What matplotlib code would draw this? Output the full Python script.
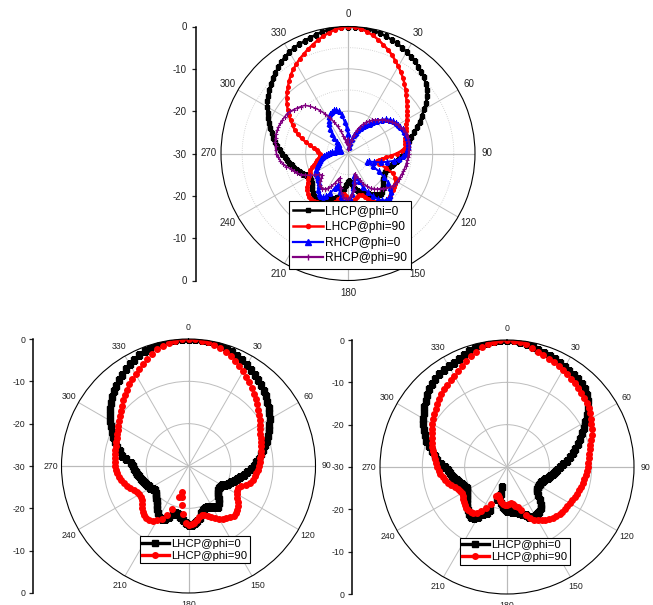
import numpy as np
import matplotlib.pyplot as plt
from matplotlib.lines import Line2D

plt.rcParams['font.family'] = ['Liberation Sans', 'DejaVu Sans']

W, H = 653, 605

# sample angles (deg), clockwise from boresight
theta_deg = np.arange(0, 360, 3)

# ---- top panel: LHCP / RHCP gain, dB ----
top_lhcp_phi0 = [
    0, 0, -0.1, -0.2, -0.4, -0.6, -0.9, -1.2, -1.5, -1.9,
    -2.3, -2.7, -3.1, -3.6, -4.1, -4.6, -5.3, -6.1, -7.0, -8.0,
    -9.2, -10.4, -11.5, -12.5, -13.5, -14.5, -15.3, -15.8, -16.1, -16.4,
    -16.7, -17.2, -17.8, -18.4, -18.9, -19.3, -19.7, -20.0, -20.2, -20.3,
    -20.2, -20.0, -19.8, -19.5, -19.0, -18.4, -17.9, -17.7, -17.9, -18.3,
    -18.8, -19.2, -19.5, -19.8, -20.2, -20.8, -21.5, -22.3, -23.0, -23.5,
    -23.3, -22.6, -21.5, -20.4, -19.6, -19.0, -18.6, -18.4, -18.3, -18.0,
    -17.5, -17.1, -17.0, -17.2, -17.6, -18.1, -18.6, -19.0, -19.2, -19.3,
    -19.2, -18.8, -18.3, -17.8, -17.3, -16.9, -16.5, -16.0, -15.5, -15.0,
    -14.4, -13.8, -13.1, -12.5, -11.9, -11.3, -10.7, -10.1, -9.4, -8.7,
    -8.0, -7.3, -6.7, -6.1, -5.5, -4.9, -4.4, -3.8, -3.2, -2.7,
    -2.3, -2.0, -1.7, -1.5, -1.2, -0.9, -0.6, -0.4, -0.2, -0.1]
top_lhcp_phi90 = [
    0, -0.1, -0.4, -0.9, -1.5, -2.2, -3.0, -3.7, -4.5, -5.4,
    -6.2, -7.1, -7.9, -8.8, -9.7, -10.6, -11.4, -12.1, -12.8, -13.4,
    -14.0, -14.5, -15.0, -15.4, -15.7, -16.0, -16.2, -16.3, -16.5, -17.3,
    -18.5, -19.8, -21.0, -21.9, -22.5, -22.9, -22.3, -20.3, -18.4, -17.5,
    -17.0, -16.8, -16.6, -16.4, -16.2, -15.9, -15.7, -15.6, -15.8, -16.2,
    -16.7, -17.4, -18.2, -19.0, -19.6, -19.8, -19.5, -19.0, -18.7, -18.8,
    -19.3, -20.0, -20.3, -19.8, -18.9, -18.2, -17.7, -17.3, -17.0, -16.8,
    -16.6, -16.4, -16.2, -16.1, -16.2, -16.6, -17.1, -17.6, -18.2, -18.8,
    -19.3, -19.8, -20.3, -20.9, -21.5, -22.1, -22.6, -23.0, -23.3, -23.4,
    -23.3, -23.0, -22.6, -21.8, -20.8, -19.7, -18.5, -17.3, -16.2, -15.3,
    -14.4, -13.4, -12.4, -11.4, -10.5, -9.6, -8.8, -7.9, -7.0, -6.3,
    -5.6, -4.9, -4.3, -3.6, -3.0, -2.3, -1.7, -1.1, -0.6, -0.2]
top_rhcp_phi0 = [
    -25.5, -27.0, -28.5, -28.5, -27.5, -26.5, -25.5, -24.7, -24.0, -23.3,
    -22.6, -22.0, -21.3, -20.5, -19.6, -18.7, -17.9, -17.3, -16.9, -16.6,
    -16.3, -16.1, -15.9, -15.8, -15.6, -15.5, -15.5, -15.6, -15.8, -16.0,
    -16.3, -16.9, -17.8, -19.0, -20.5, -22.0, -23.5, -24.8, -25.0, -23.5,
    -21.6, -19.8, -18.3, -17.2, -16.4, -15.9, -15.7, -15.8, -16.3, -17.2,
    -18.4, -19.8, -21.4, -23.0, -24.2, -24.5, -23.4, -21.8, -20.4, -19.4,
    -18.8, -18.6, -18.8, -19.5, -20.6, -21.7, -22.2, -21.3, -19.8, -18.6,
    -18.0, -17.9, -18.3, -18.9, -19.6, -20.2, -20.6, -20.8, -20.9, -21.0,
    -21.2, -21.5, -21.9, -22.3, -22.8, -23.2, -23.6, -24.0, -24.4, -24.8,
    -25.2, -25.7, -26.3, -27.0, -27.6, -28.0, -28.2, -28.0, -27.6, -27.2,
    -26.9, -26.8, -26.9, -27.1, -27.0, -26.3, -25.2, -24.0, -22.8, -21.8,
    -21.0, -20.3, -19.8, -19.5, -19.3, -19.3, -19.8, -20.8, -22.5, -24.0]
top_rhcp_phi90 = [
    -26.5, -28.0, -29.0, -28.8, -27.8, -26.6, -25.3, -24.1, -23.1, -22.3,
    -21.5, -20.9, -20.3, -19.8, -19.3, -18.8, -18.2, -17.7, -17.2, -16.8,
    -16.4, -16.1, -15.8, -15.6, -15.5, -15.4, -15.4, -15.4, -15.5, -15.6,
    -15.7, -15.8, -15.9, -16.0, -16.1, -16.2, -16.3, -16.4, -16.5, -16.6,
    -16.7, -16.8, -17.0, -17.3, -17.8, -18.3, -18.8, -19.2, -19.6, -20.2,
    -21.0, -22.0, -23.2, -24.4, -25.0, -24.0, -22.6, -21.3, -20.3, -19.6,
    -19.2, -19.2, -19.6, -20.4, -21.6, -23.0, -24.0, -23.4, -22.3, -21.3,
    -20.5, -20.0, -19.7, -19.7, -20.0, -20.7, -21.5, -22.0, -21.6, -20.7,
    -19.7, -18.7, -17.8, -17.1, -16.6, -16.0, -15.1, -14.4, -13.9, -13.5,
    -13.1, -12.9, -12.8, -12.6, -12.5, -12.4, -12.4, -12.4, -12.5, -12.6,
    -12.7, -12.8, -13.1, -13.5, -13.9, -14.3, -14.7, -15.6, -16.7, -17.9,
    -19.2, -20.5, -21.8, -23.1, -24.4, -25.6, -26.6, -27.3, -27.5, -27.0]

# ---- bottom-left panel ----
bl_lhcp_phi0 = [
    0, 0, -0.1, -0.2, -0.4, -0.6, -0.9, -1.2, -1.6, -2.0,
    -2.5, -3.0, -3.4, -3.9, -4.4, -4.9, -5.4, -6.0, -6.6, -7.2,
    -7.9, -8.6, -9.3, -10.0, -10.6, -11.2, -11.9, -12.6, -13.3, -14.0,
    -14.6, -15.3, -16.0, -16.8, -17.5, -18.1, -18.6, -19.2, -19.8, -20.3,
    -20.8, -21.0, -21.2, -21.0, -20.5, -20.0, -19.4, -18.7, -18.1, -18.4,
    -18.9, -19.2, -19.5, -19.4, -19.0, -18.4, -17.5, -16.9, -16.4, -16.1,
    -16.1, -16.5, -17.2, -17.9, -18.4, -18.4, -18.0, -17.2, -16.4, -16.0,
    -16.2, -16.9, -17.5, -18.2, -18.8, -19.3, -19.7, -20.0, -20.2, -19.9,
    -19.6, -19.4, -19.2, -18.9, -18.6, -18.3, -18.1, -17.8, -17.5, -17.2,
    -17.0, -16.3, -15.2, -14.2, -13.4, -12.6, -11.8, -11.0, -10.2, -9.4,
    -8.6, -7.9, -7.2, -6.5, -5.8, -5.1, -4.5, -3.9, -3.3, -2.8,
    -2.3, -1.8, -1.4, -1.0, -0.7, -0.5, -0.3, -0.2, -0.1, 0]
bl_lhcp_phi90 = [
    0, -0.05, -0.2, -0.4, -0.7, -1.2, -1.7, -2.2, -2.8, -3.5,
    -4.2, -4.9, -5.6, -6.3, -7.0, -7.6, -8.2, -8.8, -9.4, -10.0,
    -10.5, -11.0, -11.4, -11.7, -12.0, -12.2, -12.4, -12.7, -12.9, -13.1,
    -13.3, -13.6, -13.9, -14.2, -14.5, -14.9, -15.6, -16.6, -17.1, -17.2,
    -16.9, -16.3, -15.6, -15.0, -14.6, -14.2, -14.1, -14.4, -14.8, -15.1,
    -15.6, -16.2, -16.8, -17.4, -17.8, -18.0, -17.6, -17.0, -16.5, -16.2,
    -16.1, -16.5, -18.6, -20.6, -22.6, -23.7, -22.4, -19.2, -17.3, -16.0,
    -15.3, -14.6, -14.3, -14.2, -14.3, -14.7, -15.2, -15.8, -16.3, -16.6,
    -16.6, -16.3, -15.8, -15.3, -14.8, -14.2, -13.8, -13.4, -13.1, -12.9,
    -12.7, -12.6, -12.5, -12.4, -12.3, -12.2, -12.0, -11.8, -11.5, -11.2,
    -10.9, -10.5, -10.0, -9.4, -8.8, -8.1, -7.5, -6.8, -6.2, -5.6,
    -5.0, -4.4, -3.6, -2.8, -2.1, -1.5, -1.0, -0.5, -0.2, -0.05]

# ---- bottom-right panel ----
br_lhcp_phi0 = [
    0, -0.05, -0.2, -0.5, -0.9, -1.3, -1.6, -1.9, -2.2, -2.5,
    -2.8, -3.0, -3.2, -3.4, -3.6, -4.1, -4.7, -5.4, -6.4, -7.6,
    -8.6, -9.5, -10.5, -11.5, -12.4, -13.3, -14.1, -14.9, -15.8, -16.7,
    -17.4, -18.1, -18.7, -19.1, -19.5, -20.0, -20.5, -20.9, -21.1, -21.3,
    -21.4, -21.3, -21.1, -20.9, -20.0, -18.9, -18.0, -17.4, -17.0, -16.8,
    -16.7, -16.8, -17.2, -17.8, -18.3, -18.8, -19.1, -19.3, -19.4, -19.5,
    -19.7, -20.0, -20.4, -21.5, -23.5, -25.0, -22.0, -19.0, -18.2, -17.6,
    -16.4, -15.6, -15.5, -15.8, -16.2, -16.8, -17.4, -17.9, -18.3, -18.6,
    -19.2, -19.3, -19.0, -18.6, -18.2, -17.8, -17.3, -16.9, -16.5, -16.0,
    -15.3, -14.3, -13.4, -12.8, -12.0, -10.9, -10.0, -9.2, -8.5, -7.8,
    -7.2, -6.5, -5.9, -5.3, -4.7, -4.1, -3.6, -3.1, -2.8, -2.6,
    -2.4, -2.3, -2.0, -1.6, -1.2, -0.8, -0.5, -0.3, -0.1, 0]
br_lhcp_phi90 = [
    0, -0.1, -0.3, -0.7, -1.2, -1.8, -2.2, -2.6, -2.9, -3.2,
    -3.5, -3.8, -4.2, -4.6, -5.0, -5.2, -5.5, -5.8, -6.2, -6.6,
    -7.1, -7.6, -8.1, -8.6, -9.1, -9.6, -10.0, -10.3, -10.6, -10.8,
    -10.9, -11.1, -11.3, -11.5, -11.7, -11.9, -12.1, -12.3, -12.5, -12.7,
    -12.9, -13.0, -13.1, -13.2, -13.3, -13.5, -13.8, -14.2, -14.6, -15.0,
    -15.5, -16.0, -16.7, -17.8, -19.2, -20.2, -20.7, -21.2, -21.5, -21.3,
    -21.0, -21.0, -21.3, -21.6, -22.0, -22.6, -23.0, -22.6, -20.5, -19.0,
    -17.9, -17.0, -16.5, -16.3, -16.2, -16.3, -16.6, -16.9, -17.2, -17.5,
    -17.6, -17.6, -17.3, -16.8, -16.1, -15.5, -15.0, -14.6, -14.2, -13.8,
    -13.4, -13.1, -12.8, -12.5, -12.1, -11.7, -11.3, -10.9, -10.5, -10.0,
    -9.6, -9.2, -8.7, -8.3, -7.8, -7.3, -6.8, -6.4, -6.0, -5.6,
    -5.1, -4.6, -4.0, -3.3, -2.5, -1.8, -1.1, -0.6, -0.2, -0.05]

angle_ticks = np.arange(0, 360, 30)
radial_ticks = [30, 20, 10, 0, -10, -20, -30]
radial_labels = ['0', '-10', '-20', '-30', '-20', '-10', '0']

fig = plt.figure(figsize=(W / 100, H / 100), dpi=100)


def polar_panel(cx, cy, R, scale_x, fs, label_r=2.9, pad=3.5, dotted=False):
    ax = fig.add_axes([(cx - R) / W, 1 - (cy + R) / H, 2 * R / W, 2 * R / H],
                      projection='polar')
    ax.set_theta_zero_location('N')
    ax.set_theta_direction(-1)
    ax.set_ylim(-30, 0)
    ax.set_xticks(np.deg2rad(angle_ticks))
    ax.set_xticklabels([])
    ax.set_yticks([-20, -10])
    ax.set_yticklabels([])
    ax.grid(True, color='#bdbdbd', lw=0.7)
    ax.spines['polar'].set_color('black')
    ax.spines['polar'].set_linewidth(0.8)
    ring = np.linspace(0, 2 * np.pi, 361)
    if dotted:
        for r in (-25, -15, -5):
            ax.plot(ring, np.full_like(ring, r), ls=':', color='#c8c8c8',
                    lw=0.6, zorder=0.5)
    # main cross through the centre
    for a in (0, 90, 180, 270):
        ax.plot(np.deg2rad([a, a]), [-30, 0], color='#7a7a7a', lw=0.8,
                zorder=0.6)
    for a in angle_ticks:
        ax.text(np.deg2rad(a), label_r, str(a), ha='center', va='center',
                fontsize=fs, color='#222222', clip_on=False)

    # Origin-style radial scale on the left
    sa = fig.add_axes([scale_x / W, 1 - (cy + R) / H, 0.0001, 2 * R / H])
    sa.set_ylim(-30, 30)
    sa.set_yticks(radial_ticks)
    sa.set_yticklabels(radial_labels)
    sa.set_xticks([])
    for s in ('top', 'right', 'bottom'):
        sa.spines[s].set_visible(False)
    sa.spines['left'].set_linewidth(1.1)
    sa.tick_params(axis='y', direction='out', length=3, width=0.9,
                   labelsize=fs, pad=pad, colors='#222222')
    sa.patch.set_visible(False)
    return ax


def closed(v):
    v = np.asarray(v, dtype=float)
    return np.append(v, v[0])


th = np.deg2rad(theta_deg)
thc = np.append(th, th[0])

# ---- top ----
ax = polar_panel(348, 153.5, 127, 196, 7, dotted=True)
ax.plot(thc, closed(top_lhcp_phi0), color='black', lw=1.8, marker='s', ms=2.6)
ax.plot(thc, closed(top_lhcp_phi90), color='red', lw=1.8, marker='o', ms=2.6)
ax.plot(thc, closed(top_rhcp_phi0), color='blue', lw=1.4, marker='^', ms=3.2)
ax.plot(thc, closed(top_rhcp_phi90), color='#800080', lw=1.1, marker='+', ms=3,
        mew=0.8)
top_handles = [
    Line2D([], [], color='black', lw=1.8, marker='s', ms=3),
    Line2D([], [], color='red', lw=1.8, marker='o', ms=3),
    Line2D([], [], color='blue', lw=1.6, marker='^', ms=4),
    Line2D([], [], color='#800080', lw=1.6, marker='|', ms=5, mew=1),
]
leg = ax.legend(top_handles, ['LHCP@phi=0', 'LHCP@phi=90', 'RHCP@phi=0',
                              'RHCP@phi=90'],
                loc='upper left', bbox_to_anchor=(289 / W, 1 - 201.5 / H),
                bbox_transform=fig.transFigure, fontsize=8.6, frameon=True,
                fancybox=False, framealpha=1, edgecolor='black',
                handlelength=2.5, handletextpad=0.2, labelspacing=0.3,
                borderpad=0.35, borderaxespad=0)
leg.get_frame().set_linewidth(0.8)


def bottom_panel(cx, cy, scale_x, black_vals, red_vals, leg_xy):
    ax = polar_panel(cx, cy, 127, scale_x, 6.3, label_r=2.6, pad=2.5)
    ax.plot(th, black_vals, ls='none', marker='s', ms=4, color='black')
    ax.plot(th, red_vals, ls='none', marker='o', ms=4, color='red')
    handles = [
        Line2D([], [], color='black', lw=2.4, marker='s', ms=4),
        Line2D([], [], color='red', lw=2.4, marker='o', ms=4),
    ]
    lg = ax.legend(handles, ['LHCP@phi=0', 'LHCP@phi=90'], loc='upper left',
                   bbox_to_anchor=(leg_xy[0] / W, 1 - leg_xy[1] / H),
                   bbox_transform=fig.transFigure, fontsize=8.2,
                   frameon=True, fancybox=False, framealpha=1,
                   edgecolor='black', handlelength=2.3, handletextpad=0.2,
                   labelspacing=0.15, borderpad=0.25, borderaxespad=0)
    lg.get_frame().set_linewidth(0.8)


bottom_panel(188.5, 466, 33, bl_lhcp_phi0, bl_lhcp_phi90, (139.5, 536))
bottom_panel(507, 467, 352, br_lhcp_phi0, br_lhcp_phi90, (459.5, 537.5))

fig.savefig('out.png', dpi=100)
